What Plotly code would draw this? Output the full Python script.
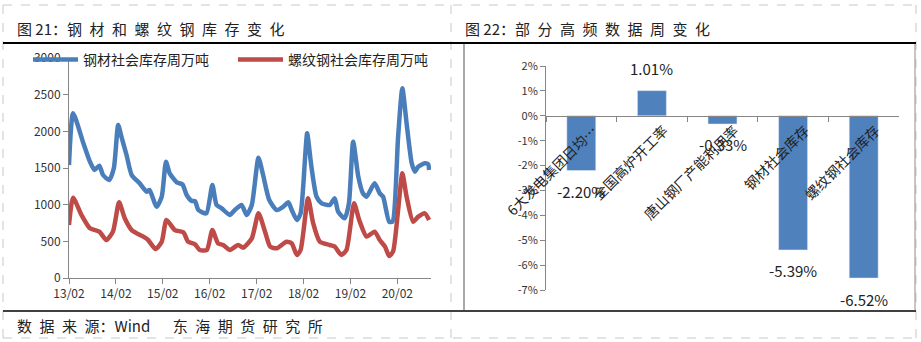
import plotly.graph_objects as go

# ---------------- data ----------------
steel_dates = ["2013-02-01", "2013-03-05", "2013-05-20", "2013-07-14", "2013-08-19", "2013-09-25",
               "2013-10-24", "2013-12-11", "2014-01-16", "2014-02-19", "2014-03-16", "2014-04-25",
               "2014-06-04", "2014-08-05", "2014-09-29", "2014-10-21", "2014-12-15", "2015-01-24",
               "2015-02-26", "2015-03-27", "2015-05-21", "2015-07-04", "2015-08-06", "2015-09-15",
               "2015-10-10", "2015-11-05", "2016-01-06", "2016-02-22", "2016-03-26", "2016-05-05",
               "2016-07-06", "2016-08-15", "2016-10-06", "2016-11-15", "2016-12-25", "2017-02-15",
               "2017-03-23", "2017-05-10", "2017-07-07", "2017-08-27", "2017-10-06", "2017-11-01",
               "2017-12-11", "2018-01-09", "2018-02-15", "2018-03-01", "2018-04-03", "2018-05-13",
               "2018-06-22", "2018-08-23", "2018-10-02", "2018-10-28", "2018-12-18", "2019-01-20",
               "2019-02-22", "2019-04-03", "2019-05-09", "2019-06-07", "2019-08-08", "2019-09-17",
               "2019-10-13", "2019-11-29", "2019-12-25", "2020-02-07", "2020-03-11", "2020-04-13",
               "2020-05-23", "2020-06-17", "2020-07-13", "2020-09-02", "2020-09-28", "2020-10-05"]
steel_stock = [1540, 2246, 1859, 1586, 1473, 1532,
               1404, 1336, 1496, 2086, 1927, 1677,
               1404, 1291, 1177, 1200, 972, 1109,
               1586, 1427, 1305, 1277, 1132, 1050,
               1050, 927, 882, 1268, 995, 950,
               859, 927, 995, 859, 995, 1641,
               1404, 1063, 927, 972, 1032, 927,
               791, 882, 1700, 1973, 1518, 1109,
               1018, 995, 1086, 904, 814, 1018,
               1859, 1382, 1155, 1109, 1291, 1155,
               1109, 768, 768, 1927, 2587, 2110,
               1564, 1450, 1518, 1564, 1550, 1473]

rebar_dates = ["2013-02-01", "2013-03-05", "2013-05-09", "2013-07-14", "2013-09-25", "2013-11-19",
               "2014-01-09", "2014-02-26", "2014-04-11", "2014-06-04", "2014-09-03", "2014-10-10",
               "2014-12-07", "2015-01-24", "2015-03-02", "2015-05-06", "2015-07-11", "2015-08-17",
               "2015-10-10", "2015-11-16", "2016-01-10", "2016-02-22", "2016-04-06", "2016-05-16",
               "2016-07-06", "2016-09-10", "2016-10-20", "2016-12-25", "2017-02-15", "2017-04-07",
               "2017-05-17", "2017-07-07", "2017-09-21", "2017-11-01", "2017-12-11", "2018-01-09",
               "2018-03-08", "2018-04-17", "2018-06-07", "2018-08-23", "2018-10-02", "2018-11-22",
               "2019-01-01", "2019-03-01", "2019-04-10", "2019-06-07", "2019-08-08", "2019-09-17",
               "2019-10-28", "2019-11-29", "2019-12-29", "2020-02-07", "2020-03-11", "2020-04-13",
               "2020-06-03", "2020-07-13", "2020-09-02", "2020-10-05"]
rebar_stock = [723, 1095, 859, 677, 632, 518,
               632, 1032, 814, 654, 563, 518,
               395, 495, 791, 654, 623, 495,
               459, 382, 382, 654, 473, 450,
               382, 450, 414, 541, 882, 632,
               427, 405, 495, 473, 314, 382,
               1086, 745, 495, 450, 427, 314,
               382, 1018, 791, 564, 632, 518,
               427, 300, 359, 927, 1427, 1109,
               768, 836, 882, 791]

line_names = ["钢材社会库存周万吨", "螺纹钢社会库存周万吨"]
year_ticks = ["2013-02-01", "2014-02-01", "2015-02-01", "2016-02-01",
              "2017-02-01", "2018-02-01", "2019-02-01", "2020-02-01"]
year_labels = ["13/02", "14/02", "15/02", "16/02", "17/02", "18/02", "19/02", "20/02"]
left_ticks = [0, 500, 1000, 1500, 2000, 2500, 3000]

categories = ["6大发电集团日均…", "全国高炉开工率", "唐山钢厂产能利用率", "钢材社会库存", "螺纹钢社会库存"]
weekly_change = [-2.20, 1.01, -0.33, -5.39, -6.52]
pct_ticks = [2, 1, 0, -1, -2, -3, -4, -5, -6, -7]
pct_labels = ["2%", "1%", "0%", "-1%", "-2%", "-3%", "-4%", "-5%", "-6%", "-7%"]

title_left = "图 21：" + "\u2002".join("钢材和螺纹钢库存变化")
title_right = "图 22：" + "\u2002".join("部分高频数据周变化")
footer = "\u2002".join("数据来源") + "：Wind\u2003\u2002" + "\u2002".join("东海期货研究所")

# ---------------- layout helpers ----------------
W, H = 921, 342
FONT = "Noto Sans CJK SC"
AX = "#868686"


def fx(p):
    return p / W


def fy(p):
    return 1 - p / H


fig = go.Figure()
fig.add_trace(go.Scatter(x=steel_dates, y=steel_stock, name=line_names[0], mode="lines",
                         line=dict(color="#4A7EBB", width=4.5, shape="spline", smoothing=0.6),
                         xaxis="x", yaxis="y"))
fig.add_trace(go.Scatter(x=rebar_dates, y=rebar_stock, name=line_names[1], mode="lines",
                         line=dict(color="#BE4B48", width=4.5, shape="spline", smoothing=0.6),
                         xaxis="x", yaxis="y"))
fig.add_trace(go.Bar(x=categories, y=weekly_change, marker_color="#4F81BD", width=0.41,
                     showlegend=False, xaxis="x2", yaxis="y2"))

annotations = []
for c, v in zip(categories, weekly_change):
    annotations.append(dict(x=c, y=v, xref="x2", yref="y2", text=f"{v:.2f}%", showarrow=False,
                            yshift=22 if v > 0 else -21, font=dict(size=15, color="#222")))

annotations += [
    dict(x=fx(15), y=fy(28), xref="paper", yref="paper", text=title_left, showarrow=False,
         xanchor="left", yanchor="middle", font=dict(size=15, color="#222")),
    dict(x=fx(463), y=fy(28), xref="paper", yref="paper", text=title_right, showarrow=False,
         xanchor="left", yanchor="middle", font=dict(size=15, color="#222")),
    dict(x=fx(15), y=fy(325), xref="paper", yref="paper", text=footer, showarrow=False,
         xanchor="left", yanchor="middle", font=dict(size=15, color="#222")),
]


def hline(y, x0, x1, color, width, dash="solid"):
    return dict(type="line", xref="paper", yref="paper", x0=fx(x0), x1=fx(x1), y0=fy(y), y1=fy(y),
                line=dict(color=color, width=width, dash=dash))


def vline(x, y0, y1, color, width, dash="solid"):
    return dict(type="line", xref="paper", yref="paper", x0=fx(x), x1=fx(x), y0=fy(y0), y1=fy(y1),
                line=dict(color=color, width=width, dash=dash))


shapes = [
    hline(5, 3, 916, "#C8C8C8", 1, "dash"),
    hline(338, 3, 916, "#C8C8C8", 1, "dash"),
    vline(3, 5, 338, "#C8C8C8", 1, "dash"),
    vline(916, 5, 338, "#C8C8C8", 1, "dash"),
    vline(451, 5, 338, "#C8C8C8", 1, "dash"),
    hline(43, 3, 916, "#000000", 2),
    hline(311, 3, 916, "#000000", 1.5),
    vline(464, 44, 310, "#8C8C8C", 1.5),
    vline(915, 44, 310, "#8C8C8C", 1),
]

fig.update_layout(
    width=W, height=H, margin=dict(l=0, r=0, t=0, b=0, pad=0, autoexpand=False),
    paper_bgcolor="white", plot_bgcolor="white",
    font=dict(family=FONT, color="#333"),
    showlegend=True,
    legend=dict(orientation="h", x=fx(28), y=fy(60), xanchor="left", yanchor="middle",
                font=dict(size=14, color="#222"), bgcolor="rgba(0,0,0,0)",
                entrywidth=145, entrywidthmode="pixels", itemwidth=45),
    xaxis=dict(domain=[fx(69), fx(431)], type="date", range=["2013-02-01", "2020-10-20"],
               tickvals=year_ticks, ticktext=year_labels, showline=True, linecolor=AX,
               ticks="outside", ticklen=5, tickcolor=AX, showgrid=False, zeroline=False,
               tickfont=dict(size=12), anchor="y", automargin=False),
    yaxis=dict(domain=[fy(278), fy(58)], range=[0, 3000], tickvals=left_ticks, showline=True,
               linecolor=AX, ticks="outside", ticklen=5, tickcolor=AX, showgrid=False,
               zeroline=False, tickfont=dict(size=12), anchor="x", automargin=False),
    xaxis2=dict(domain=[fx(546), fx(899)], anchor="free", position=fy(116), type="category",
                showline=True, linecolor=AX, ticks="outside", ticklen=5, tickcolor=AX,
                tickson="boundaries", tickangle=-45, showgrid=False, zeroline=False,
                ticklabelshift=12, tickfont=dict(size=14, color="#222"), automargin=False),
    yaxis2=dict(domain=[fy(290), fy(66)], range=[-7, 2], tickvals=pct_ticks, ticktext=pct_labels,
                showline=True, linecolor=AX, ticks="outside", ticklen=5, tickcolor=AX,
                showgrid=False, zeroline=False, tickfont=dict(size=11), anchor="x2",
                automargin=False),
    annotations=annotations,
    shapes=shapes,
)

fig.write_html("out.html")
